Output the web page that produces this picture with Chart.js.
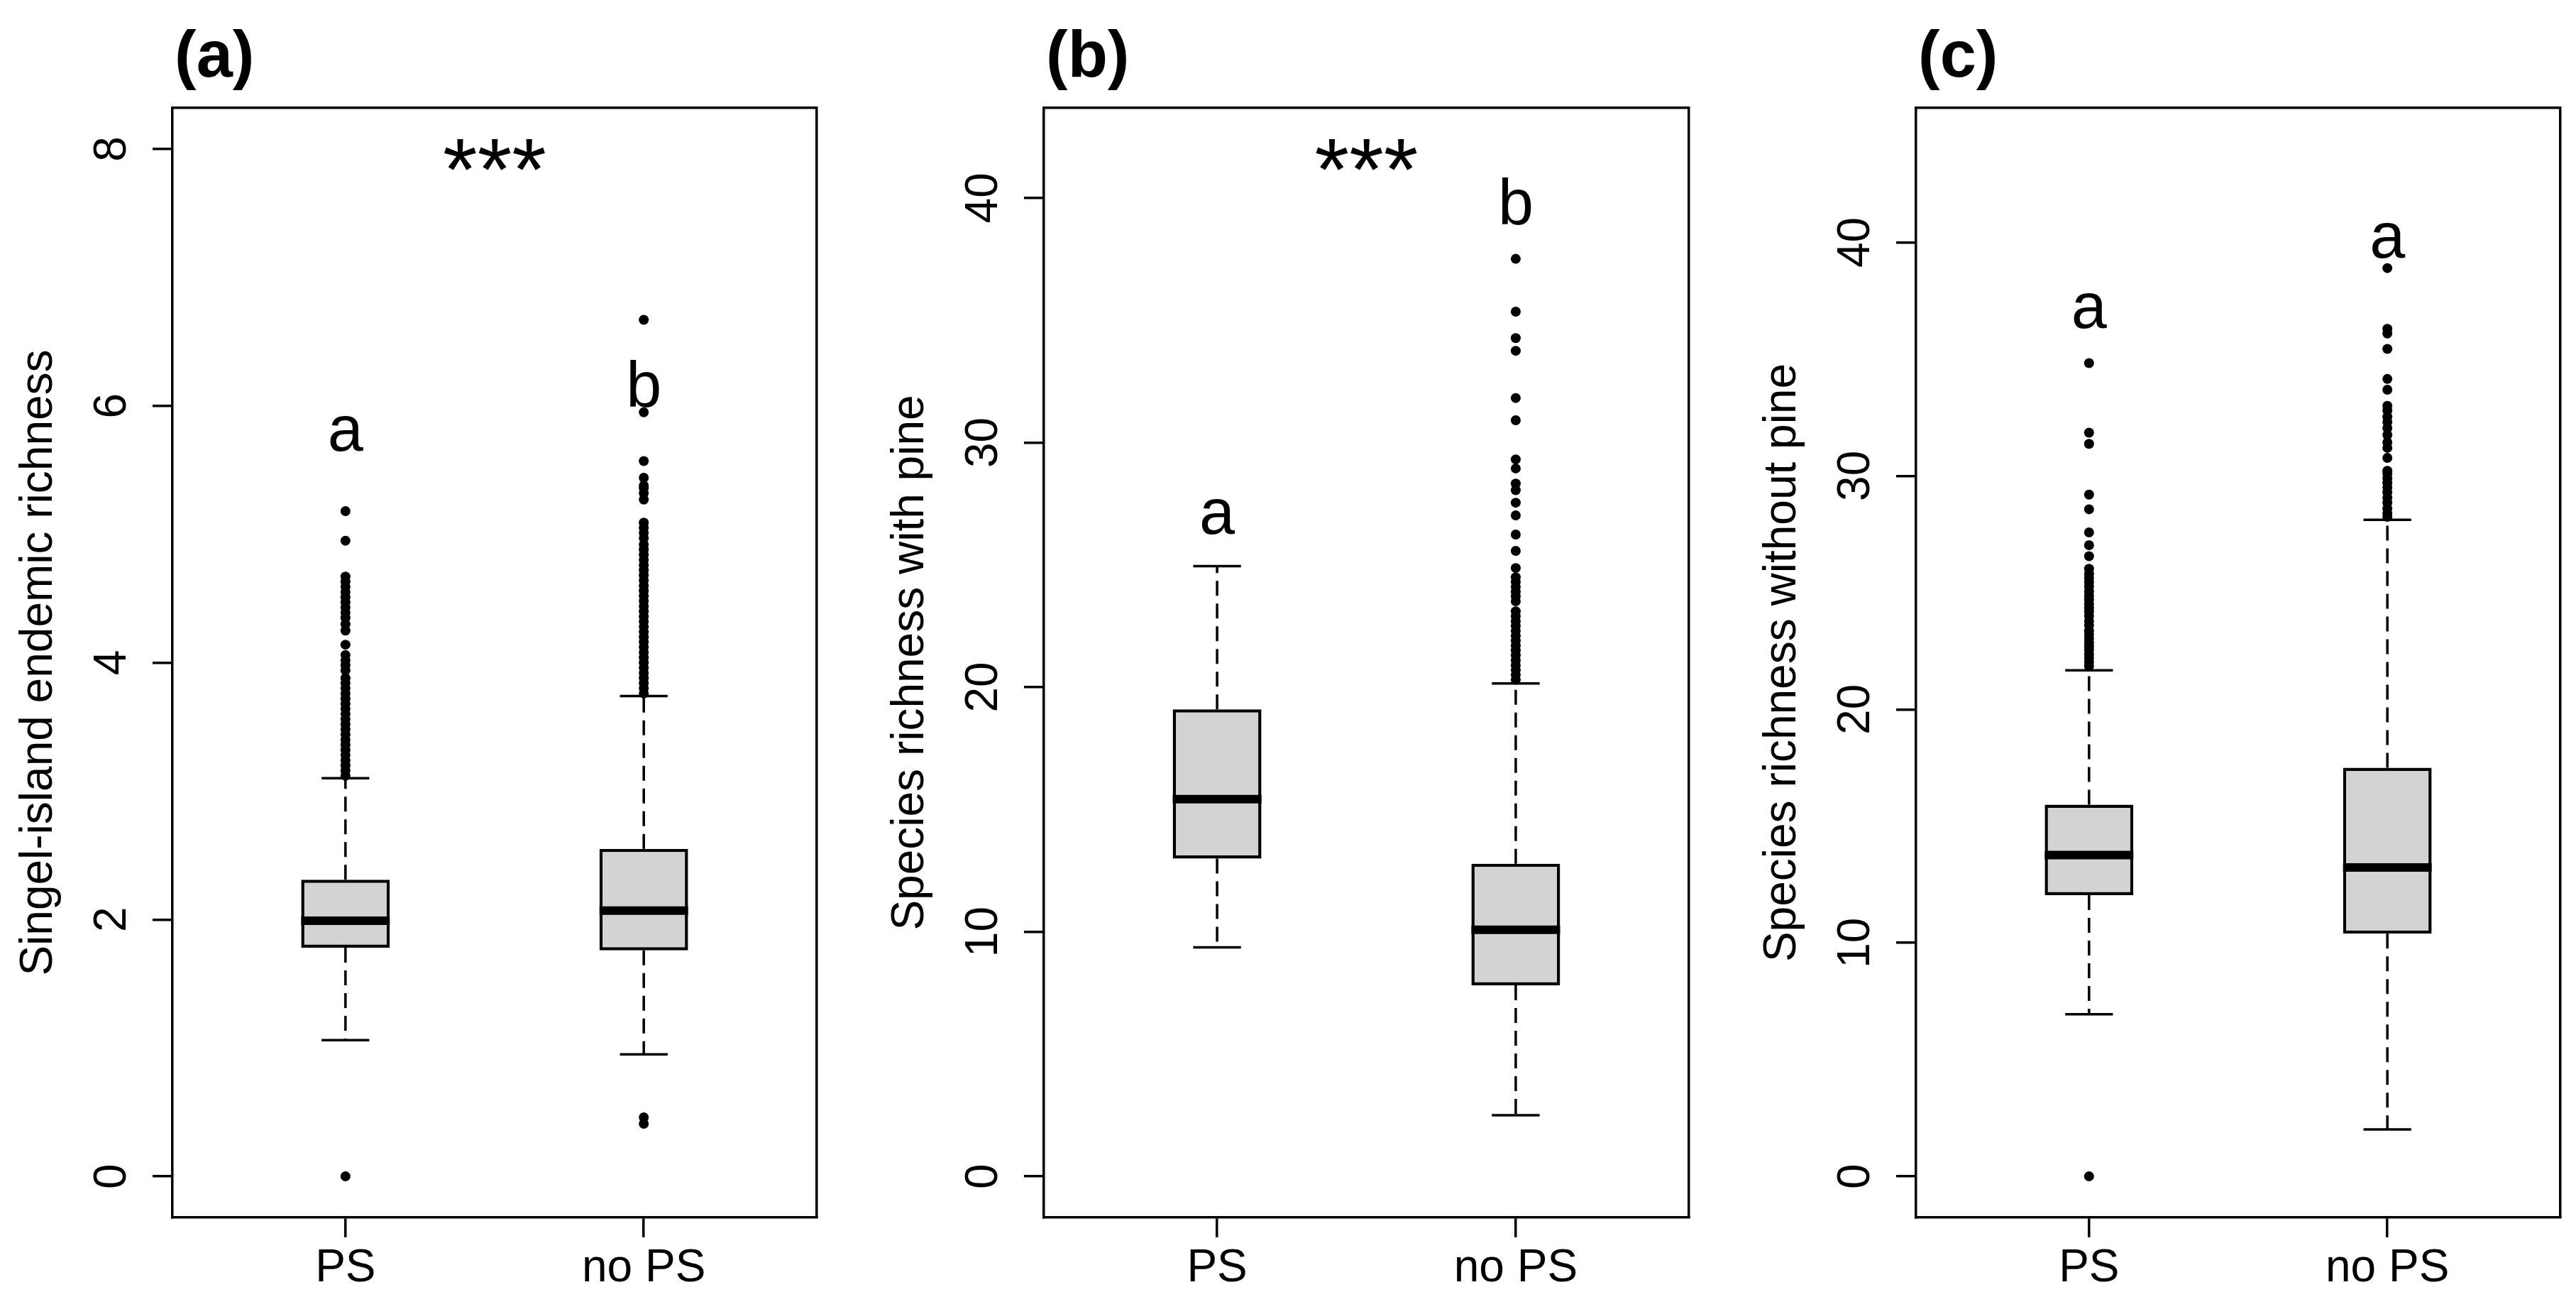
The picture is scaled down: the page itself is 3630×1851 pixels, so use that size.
<!DOCTYPE html>
<html>
<head>
<meta charset="utf-8">
<script src="https://cdn.jsdelivr.net/npm/chart.js@4.4.1/dist/chart.umd.min.js"></script>
<style>
  html, body { margin: 0; padding: 0; background: #fff; }
  #wrap { position: relative; width: 3630px; height: 1851px; background: #fff; }
  canvas { position: absolute; top: 0; }
</style>
</head>
<body>
<div id="wrap">
  <canvas id="panelA" width="1210" height="1851" style="left:0px"></canvas>
  <canvas id="panelB" width="1210" height="1851" style="left:1210px"></canvas>
  <canvas id="panelC" width="1210" height="1851" style="left:2420px"></canvas>
</div>
<script>
const categories = ['PS', 'no PS'];

// (a) singel-island endemic richness
const aTicks = [0, 2, 4, 6, 8];
const aQ1 = [1.78, 1.76];
const aMedian = [1.99, 2.07];
const aQ3 = [2.31, 2.55];
const aLow = [1.06, 0.95];
const aHigh = [3.10, 3.74];
const aOutPS = [0, 3.12, 3.16, 3.20, 3.24, 3.28, 3.32, 3.36, 3.40, 3.44, 3.48, 3.52, 3.56, 3.60,
  3.64, 3.68, 3.72, 3.76, 3.80, 3.84, 3.88, 3.94, 3.98, 4.02, 4.06, 4.14, 4.25, 4.30, 4.35,
  4.39, 4.43, 4.47, 4.51, 4.55, 4.59, 4.63, 4.67, 4.95, 5.18];
const aOutNoPS = [0.41, 0.46, 3.76, 3.80, 3.84, 3.88, 3.92, 3.96, 4.00, 4.04, 4.08, 4.12, 4.16,
  4.20, 4.24, 4.28, 4.32, 4.36, 4.40, 4.44, 4.48, 4.52, 4.56, 4.60, 4.64, 4.68, 4.72, 4.76,
  4.80, 4.84, 4.88, 4.92, 4.97, 5.01, 5.05, 5.09, 5.27, 5.32, 5.36, 5.38, 5.44, 5.57, 5.95, 6.67];
const aLetters = ['a', 'b'];
const aLetterY = [5.78, 6.17];
const aStarY = 8;

// (b) species richness with pine
const bTicks = [0, 10, 20, 30, 40];
const bQ1 = [12.99, 7.81];
const bMedian = [15.42, 10.08];
const bQ3 = [19.09, 12.78];
const bLow = [9.36, 2.50];
const bHigh = [24.95, 20.15];
const bOutPS = [];
const bOutNoPS = [20.3, 20.5, 20.7, 20.9, 21.1, 21.3, 21.5, 21.7, 21.9, 22.1, 22.3, 22.5, 22.7,
  22.9, 23.1, 23.51, 23.71, 23.9, 24.10, 24.3, 24.49, 24.87, 25.57, 26.24, 27.02, 27.54, 28.05,
  28.32, 28.94, 29.31, 30.91, 31.82, 33.75, 34.27, 35.35, 37.51];
const bLetters = ['a', 'b'];
const bLetterY = [26.96, 39.86];
const bStarY = 42;

// (c) species richness without pine
const cTicks = [0, 10, 20, 30, 40];
const cQ1 = [12.04, 10.39];
const cMedian = [13.76, 13.23];
const cQ3 = [15.92, 17.50];
const cLow = [6.94, 2.01];
const cHigh = [21.67, 28.12];
const cOutPS = [0, 21.85, 22.02, 22.2, 22.36, 22.55, 22.70, 22.85, 23.03, 23.2, 23.37, 23.6,
  23.78, 24.0, 24.19, 24.35, 24.52, 24.7, 24.86, 25.05, 25.27, 25.45, 25.61, 25.8, 26.02,
  26.56, 27.03, 27.58, 28.57, 29.20, 31.37, 31.85, 34.83];
const cOutNoPS = [28.25, 28.40, 28.6, 28.85, 29.07, 29.3, 29.5, 29.7, 29.9, 30.1, 30.22, 30.77,
  31.2, 31.44, 31.75, 32.05, 32.3, 32.53, 32.8, 33.0, 33.69, 34.15, 35.44, 36.1, 36.3, 38.9];
const cLetters = ['a', 'a'];
const cLetterY = [37.06, 40.07];
const cStarY = null;

Chart.defaults.color = '#000';
Chart.defaults.font.family = '"Liberation Sans", Arial, Helvetica, sans-serif';

const BOX_HALF = 0.1485;
const CAP_HALF = 0.08;
const FONT = '"Liberation Sans", Arial, Helvetica, sans-serif';

const annotate = {
  id: 'annotate',
  afterDraw(chart, args, opts) {
    const {ctx, chartArea, scales} = chart;
    ctx.save();
    ctx.fillStyle = '#000';
    ctx.textBaseline = 'alphabetic';
    ctx.textAlign = 'left';
    ctx.font = 'bold 92px ' + FONT;
    ctx.fillText(opts.panel, chartArea.left + 3, chartArea.top - 44);
    ctx.textAlign = 'center';
    ctx.font = '90px ' + FONT;
    opts.letters.forEach((t, i) => {
      const mid = t === 'b' ? 0.36 : 0.265;
      ctx.fillText(t, scales.x.getPixelForValue(i + 1), scales.y.getPixelForValue(opts.letterY[i]) + 90 * mid);
    });
    if (opts.starY !== null) {
      ctx.font = '125px ' + FONT;
      ctx.fillText('***', scales.x.getPixelForValue(1.5), scales.y.getPixelForValue(opts.starY) + 125 * 0.58);
    }
    ctx.restore();
  }
};

function makePanel(id, p) {
  const whisk = [], caps = [], meds = [], outs = [];
  categories.forEach((c, i) => {
    const x = i + 1;
    whisk.push({x: x, y: p.q3[i]}, {x: x, y: p.hi[i]}, {x: x, y: null},
               {x: x, y: p.q1[i]}, {x: x, y: p.lo[i]}, {x: x, y: null});
    caps.push({x: x - CAP_HALF, y: p.hi[i]}, {x: x + CAP_HALF, y: p.hi[i]}, {x: x, y: null},
              {x: x - CAP_HALF, y: p.lo[i]}, {x: x + CAP_HALF, y: p.lo[i]}, {x: x, y: null});
    meds.push({x: x - BOX_HALF, y: p.med[i]}, {x: x + BOX_HALF, y: p.med[i]}, {x: x, y: null});
    p.outliers[i].forEach(v => outs.push({x: x, y: v}));
  });

  const noTicks = {display: false};
  new Chart(document.getElementById(id), {
    type: 'bar',
    data: {
      datasets: [
        {
          type: 'scatter', order: 0, data: outs,
          pointRadius: 7, pointBackgroundColor: '#000', pointBorderWidth: 0
        },
        {
          type: 'line', order: 1, data: meds, borderColor: '#000', borderWidth: 12,
          borderCapStyle: 'butt', pointRadius: 0, fill: false, spanGaps: false
        },
        {
          type: 'bar', order: 2,
          data: categories.map((c, i) => ({x: i + 1, y: [p.q1[i], p.q3[i]]})),
          backgroundColor: '#d3d3d3', borderColor: '#000', borderWidth: 4.5,
          borderSkipped: false, barPercentage: 0.297, categoryPercentage: 1
        },
        {
          type: 'line', order: 3, data: caps, borderColor: '#000', borderWidth: 3.5,
          borderCapStyle: 'butt', pointRadius: 0, fill: false, spanGaps: false
        },
        {
          type: 'line', order: 4, data: whisk, borderColor: '#000', borderWidth: 3.5,
          borderDash: [21, 11], borderCapStyle: 'butt', pointRadius: 0, fill: false, spanGaps: false
        }
      ]
    },
    options: {
      responsive: false,
      devicePixelRatio: 1,
      animation: false,
      events: [],
      layout: {padding: {left: p.padL, right: p.padR, top: 152, bottom: 0}},
      plugins: {
        legend: {display: false},
        tooltip: {enabled: false},
        annotate: {panel: p.panel, letters: p.letters, letterY: p.letterY, starY: p.starY}
      },
      scales: {
        x: {
          type: 'linear', position: 'bottom', min: 0.42, max: 2.58, offset: false,
          afterBuildTicks: s => { s.ticks = categories.map((c, i) => ({value: i + 1})); },
          afterFit: s => { s.height = 136; },
          ticks: {
            callback: (v, i) => categories[i],
            font: {size: 64}, padding: 6, maxRotation: 0, autoSkip: false
          },
          grid: {display: true, offset: false, drawOnChartArea: false, drawTicks: true,
                 tickLength: 28, lineWidth: 3.5, color: '#000'},
          border: {display: true, width: 3.5, color: '#000'}
        },
        y: {
          type: 'linear', position: 'left', min: p.yMin, max: p.yMax,
          afterBuildTicks: s => { s.ticks = p.ticks.map(v => ({value: v})); },
          afterFit: s => { s.width = 243; },
          ticks: {font: {size: 64}, minRotation: 90, maxRotation: 90,
                  crossAlign: 'center', padding: p.tickPad},
          grid: {display: true, drawOnChartArea: false, drawTicks: true,
                 tickLength: 28, lineWidth: 3.5, color: '#000'},
          border: {display: true, width: 3.5, color: '#000'},
          title: {display: true, text: p.yTitle, font: {size: 64}, padding: {top: 17, bottom: 0}}
        },
        xTop: {
          type: 'linear', position: 'top', min: 0, max: 1,
          afterFit: s => { s.height = 0; },
          ticks: noTicks, grid: {display: false, drawTicks: false},
          border: {display: true, width: 3.5, color: '#000'}
        },
        yRight: {
          type: 'linear', position: 'right', min: 0, max: 1,
          afterFit: s => { s.width = 0; },
          ticks: noTicks, grid: {display: false, drawTicks: false},
          border: {display: true, width: 3.5, color: '#000'}
        }
      }
    },
    plugins: [annotate]
  });
}

makePanel('panelA', {
  panel: '(a)', yTitle: 'Singel-island endemic richness', ticks: aTicks, yMin: -0.32, yMax: 8.32,
  q1: aQ1, med: aMedian, q3: aQ3, lo: aLow, hi: aHigh, outliers: [aOutPS, aOutNoPS],
  letters: aLetters, letterY: aLetterY, starY: aStarY, padL: 0, padR: 59, tickPad: 38
});
makePanel('panelB', {
  panel: '(b)', yTitle: 'Species richness with pine', ticks: bTicks, yMin: -1.68, yMax: 43.68,
  q1: bQ1, med: bMedian, q3: bQ3, lo: bLow, hi: bHigh, outliers: [bOutPS, bOutNoPS],
  letters: bLetters, letterY: bLetterY, starY: bStarY, padL: 18, padR: 40, tickPad: 20
});
makePanel('panelC', {
  panel: '(c)', yTitle: 'Species richness without pine', ticks: cTicks, yMin: -1.76, yMax: 45.76,
  q1: cQ1, med: cMedian, q3: cQ3, lo: cLow, hi: cHigh, outliers: [cOutPS, cOutNoPS],
  letters: cLetters, letterY: cLetterY, starY: cStarY, padL: 37, padR: 22, tickPad: 20
});
</script>
</body>
</html>
